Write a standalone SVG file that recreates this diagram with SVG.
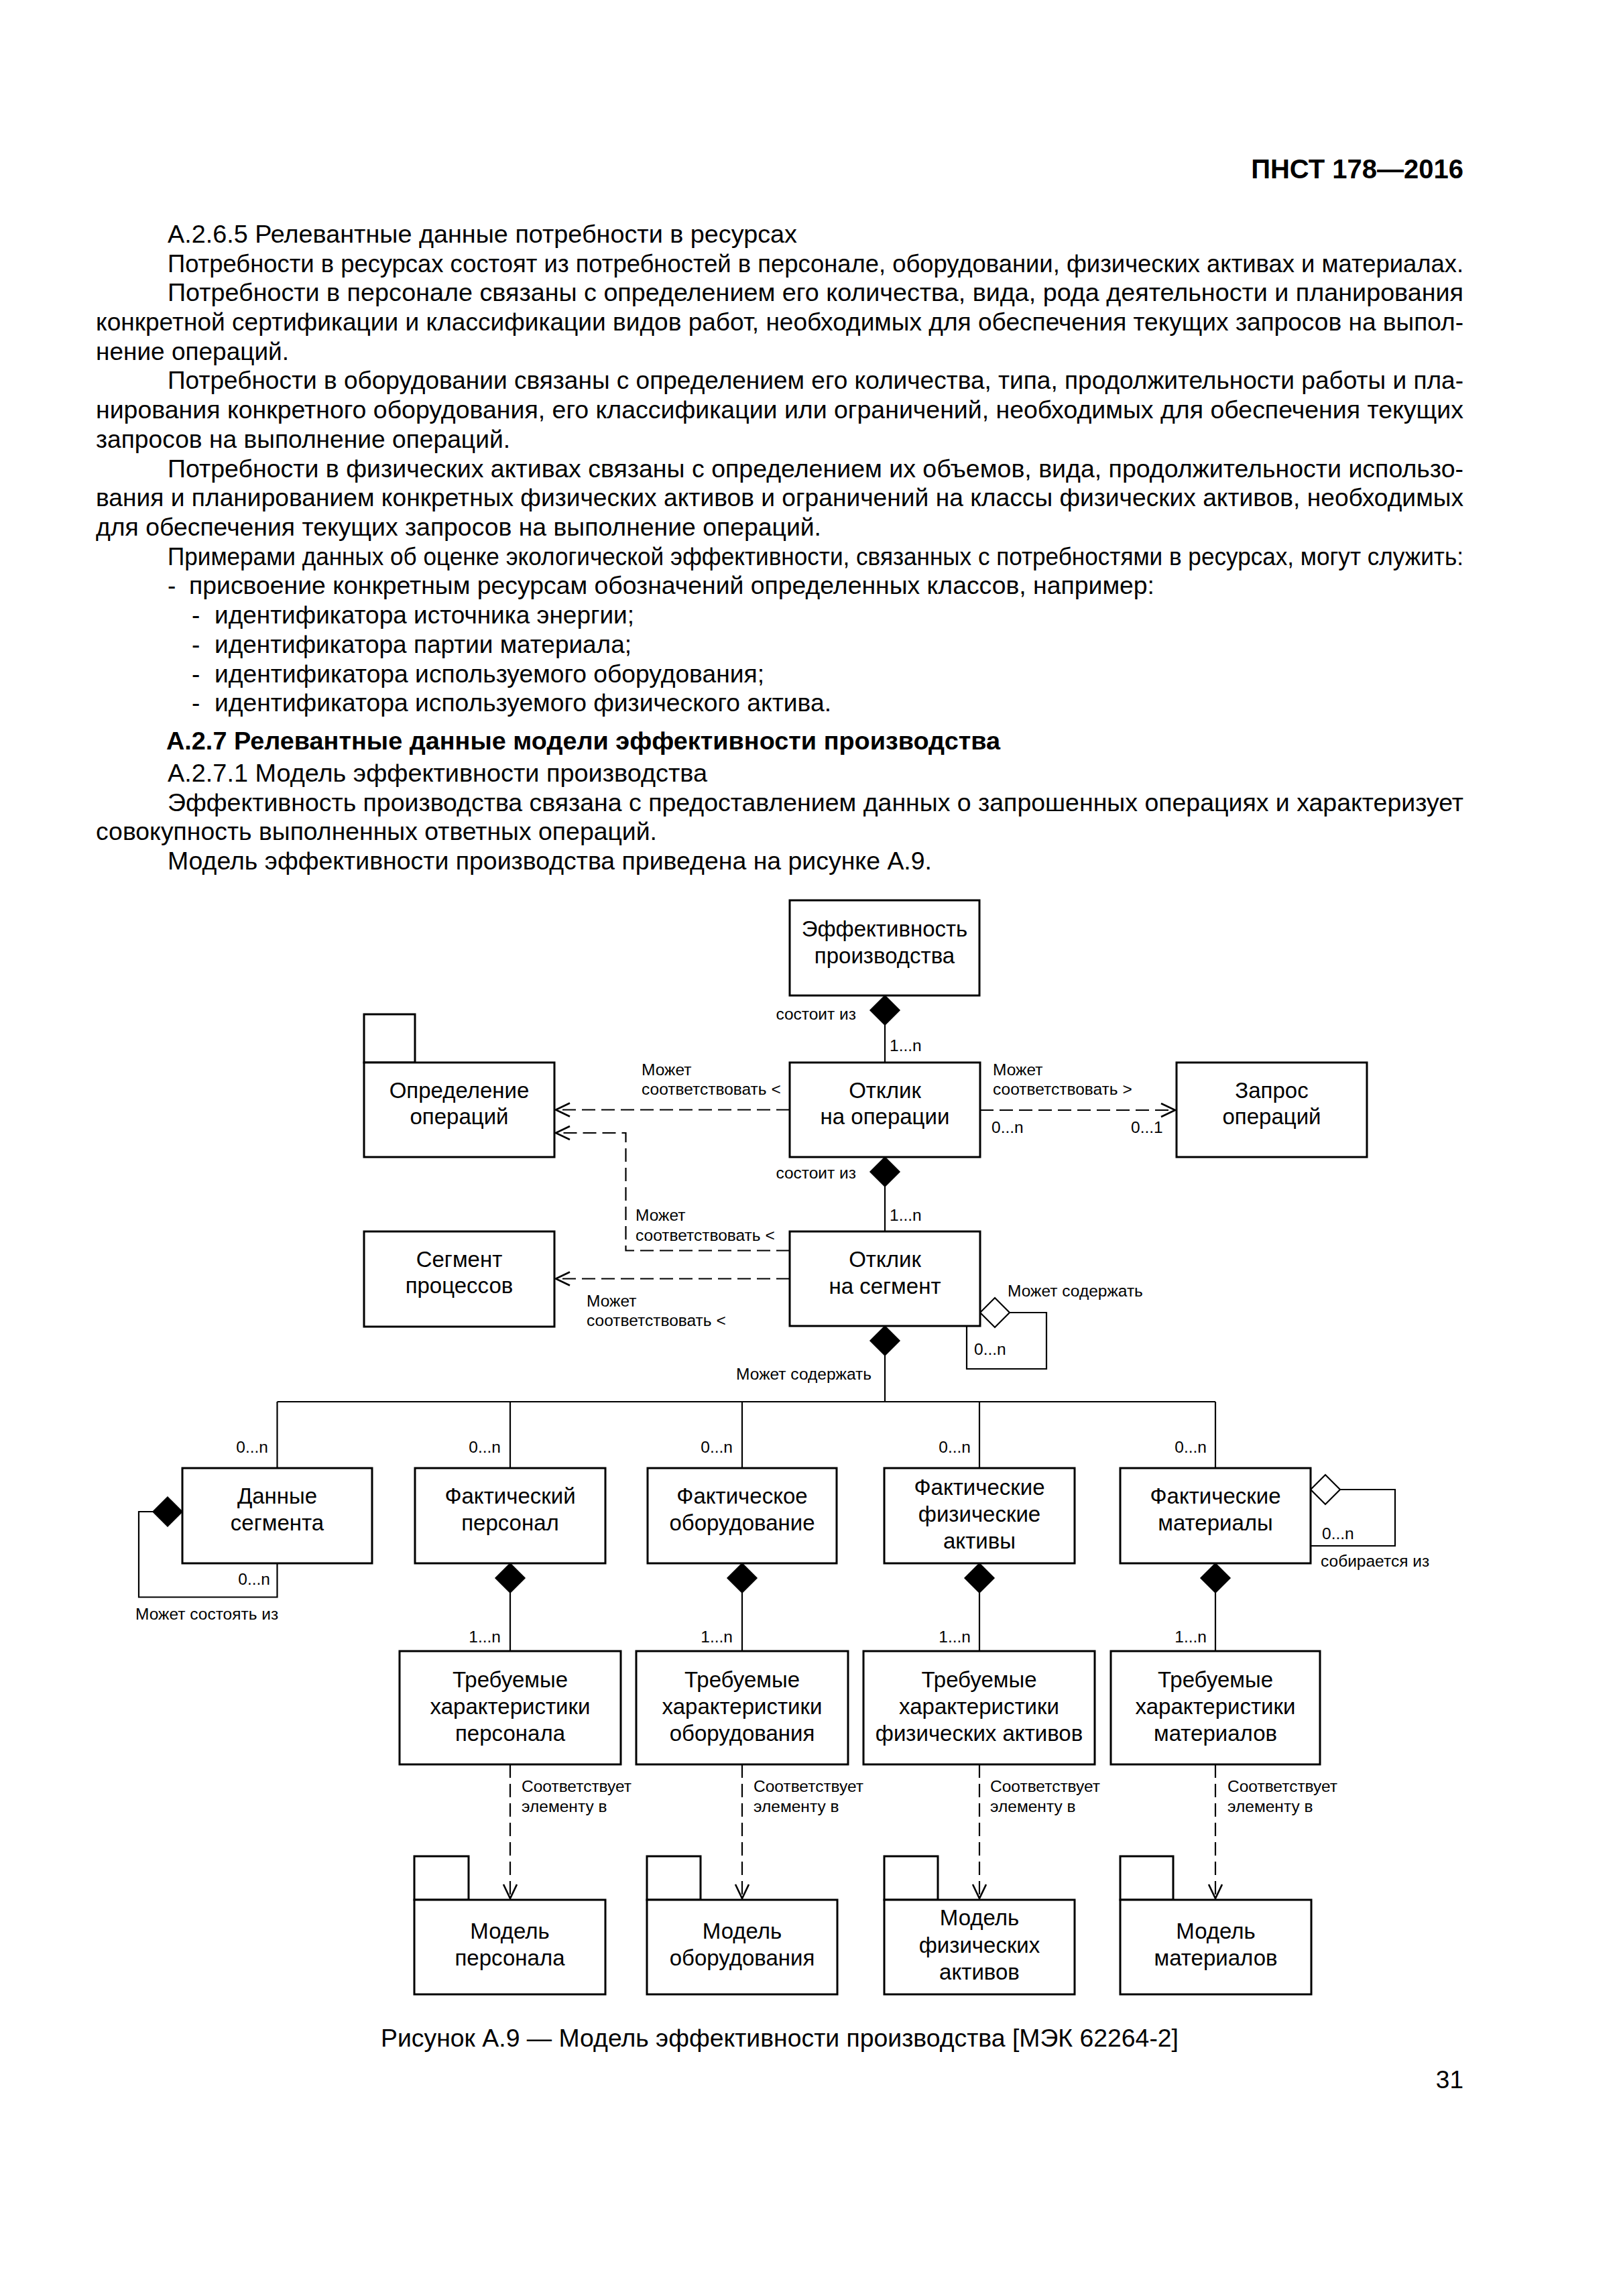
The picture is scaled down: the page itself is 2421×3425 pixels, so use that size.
<svg xmlns="http://www.w3.org/2000/svg" width="2421" height="3425" viewBox="0 0 2421 3425">
<style>
text{font-family:"Liberation Sans",Arial,sans-serif;fill:#000}
.b{font-size:37px}
.hb{font-weight:bold}
.box{fill:#fff;stroke:#000;stroke-width:3}
.lbl{font-size:33px;text-anchor:middle}
.sm{font-size:24.5px}
.e{text-anchor:end}
.ln{fill:none;stroke:#000;stroke-width:2.2}
.dl{fill:none;stroke:#000;stroke-width:2.2;stroke-dasharray:20 9}
.fd{fill:#000;stroke:#000;stroke-width:1.5}
.hd{fill:#fff;stroke:#000;stroke-width:2.2}
</style>
<defs>
<marker id="arr" markerUnits="userSpaceOnUse" markerWidth="30" markerHeight="30" refX="22" refY="11" orient="auto">
<path d="M1,1 L22,11 L1,21" fill="none" stroke="#000" stroke-width="2.6"/>
</marker>
</defs>
<rect x="0" y="0" width="2421" height="3425" fill="#fff"/>

<g id="page-text">
<text class="b hb e" x="2183" y="266" style="font-size:40px">ПНСТ 178—2016</text>
<text class="b" x="250" y="362" textLength="939" lengthAdjust="spacingAndGlyphs">А.2.6.5  Релевантные данные потребности в ресурсах</text>
<text class="b" x="250" y="406" textLength="1933" lengthAdjust="spacingAndGlyphs">Потребности в ресурсах состоят из потребностей в персонале, оборудовании, физических активах и материалах.</text>
<text class="b" x="250" y="449" textLength="1933" lengthAdjust="spacingAndGlyphs">Потребности в персонале связаны с определением его количества, вида, рода деятельности и планирования</text>
<text class="b" x="143" y="493" textLength="2040" lengthAdjust="spacingAndGlyphs">конкретной сертификации и классификации видов работ, необходимых для обеспечения текущих запросов на выпол-</text>
<text class="b" x="143" y="537" textLength="288" lengthAdjust="spacingAndGlyphs">нение операций.</text>
<text class="b" x="250" y="580" textLength="1933" lengthAdjust="spacingAndGlyphs">Потребности в оборудовании связаны с определением его количества, типа, продолжительности работы и пла-</text>
<text class="b" x="143" y="624" textLength="2040" lengthAdjust="spacingAndGlyphs">нирования конкретного оборудования, его классификации или ограничений, необходимых для обеспечения текущих</text>
<text class="b" x="143" y="668" textLength="618" lengthAdjust="spacingAndGlyphs">запросов на выполнение операций.</text>
<text class="b" x="250" y="712" textLength="1933" lengthAdjust="spacingAndGlyphs">Потребности в физических активах связаны с определением их объемов, вида, продолжительности использо-</text>
<text class="b" x="143" y="755" textLength="2040" lengthAdjust="spacingAndGlyphs">вания и планированием конкретных физических активов и ограничений на классы физических активов, необходимых</text>
<text class="b" x="143" y="799" textLength="1082" lengthAdjust="spacingAndGlyphs">для обеспечения текущих запросов на выполнение операций.</text>
<text class="b" x="250" y="843" textLength="1933" lengthAdjust="spacingAndGlyphs">Примерами данных об оценке экологической эффективности, связанных с потребностями в ресурсах, могут служить:</text>
<text class="b" x="250" y="886">-</text>
<text class="b" x="282" y="886" textLength="1440" lengthAdjust="spacingAndGlyphs">присвоение конкретным ресурсам обозначений определенных классов, например:</text>
<text class="b" x="286" y="930">-</text>
<text class="b" x="320" y="930" textLength="626" lengthAdjust="spacingAndGlyphs">идентификатора источника энергии;</text>
<text class="b" x="286" y="974">-</text>
<text class="b" x="320" y="974" textLength="622" lengthAdjust="spacingAndGlyphs">идентификатора партии материала;</text>
<text class="b" x="286" y="1018">-</text>
<text class="b" x="320" y="1018" textLength="820" lengthAdjust="spacingAndGlyphs">идентификатора используемого оборудования;</text>
<text class="b" x="286" y="1061">-</text>
<text class="b" x="320" y="1061" textLength="920" lengthAdjust="spacingAndGlyphs">идентификатора используемого физического актива.</text>
<text class="b hb" x="248" y="1118" textLength="1244" lengthAdjust="spacingAndGlyphs">А.2.7  Релевантные данные модели эффективности производства</text>
<text class="b" x="250" y="1166" textLength="805" lengthAdjust="spacingAndGlyphs">А.2.7.1  Модель эффективности производства</text>
<text class="b" x="250" y="1210" textLength="1933" lengthAdjust="spacingAndGlyphs">Эффективность производства связана с предоставлением данных о запрошенных операциях и характеризует</text>
<text class="b" x="143" y="1253" textLength="837" lengthAdjust="spacingAndGlyphs">совокупность выполненных ответных операций.</text>
<text class="b" x="250" y="1297" textLength="1140" lengthAdjust="spacingAndGlyphs">Модель эффективности производства приведена на рисунке А.9.</text>
<text class="b" x="568" y="3053" textLength="1190" lengthAdjust="spacingAndGlyphs">Рисунок А.9 — Модель эффективности производства [МЭК 62264-2]</text>
<text class="b e" x="2183" y="3115">31</text>
</g>

<g id="connectors">
<polygon class="fd" points="1320,1485 1342,1507 1320,1529 1298,1507"/>
<line class="ln" x1="1320" y1="1529" x2="1320" y2="1585"/>
<line class="dl" x1="1178" y1="1655.5" x2="829" y2="1655.5" marker-end="url(#arr)"/>
<line class="dl" x1="1462" y1="1656" x2="1753" y2="1656" marker-end="url(#arr)"/>
<polygon class="fd" points="1320,1726 1342,1748 1320,1770 1298,1748"/>
<line class="ln" x1="1320" y1="1770" x2="1320" y2="1837"/>
<path class="dl" d="M1178,1865.5 H933.5 V1690 H829" marker-end="url(#arr)"/>
<line class="dl" x1="1178" y1="1907.5" x2="829" y2="1907.5" marker-end="url(#arr)"/>
<polygon class="hd" points="1462,1958 1484,1936 1506,1958 1484,1980"/>
<path class="ln" d="M1506,1958 H1561 V2042 H1442 V1978"/>
<polygon class="fd" points="1320,1978 1342,2000 1320,2022 1298,2000"/>
<line class="ln" x1="1320" y1="2022" x2="1320" y2="2091"/>
<path class="ln" d="M413.5,2091 H1813"/>
<line class="ln" x1="413.5" y1="2091" x2="413.5" y2="2190"/>
<line class="ln" x1="761" y1="2091" x2="761" y2="2190"/>
<line class="ln" x1="1107" y1="2091" x2="1107" y2="2190"/>
<line class="ln" x1="1461" y1="2091" x2="1461" y2="2190"/>
<line class="ln" x1="1813" y1="2091" x2="1813" y2="2190"/>
<polygon class="fd" points="272,2255 250,2233 228,2255 250,2277"/>
<path class="ln" d="M228,2255 H207 V2382.5 H413.5 V2332"/>
<polygon class="hd" points="1955,2222 1977,2200 1999,2222 1977,2244"/>
<path class="ln" d="M1999,2222 H2081 V2306 H1955"/>
<polygon class="fd" points="761,2332 783,2354 761,2376 739,2354"/>
<line class="ln" x1="761" y1="2376" x2="761" y2="2463"/>
<polygon class="fd" points="1107,2332 1129,2354 1107,2376 1085,2354"/>
<line class="ln" x1="1107" y1="2376" x2="1107" y2="2463"/>
<polygon class="fd" points="1461,2332 1483,2354 1461,2376 1439,2354"/>
<line class="ln" x1="1461" y1="2376" x2="1461" y2="2463"/>
<polygon class="fd" points="1813,2332 1835,2354 1813,2376 1791,2354"/>
<line class="ln" x1="1813" y1="2376" x2="1813" y2="2463"/>
<line class="dl" x1="761" y1="2632" x2="761" y2="2832" marker-end="url(#arr)"/>
<line class="dl" x1="1107" y1="2632" x2="1107" y2="2832" marker-end="url(#arr)"/>
<line class="dl" x1="1461" y1="2632" x2="1461" y2="2832" marker-end="url(#arr)"/>
<line class="dl" x1="1813" y1="2632" x2="1813" y2="2832" marker-end="url(#arr)"/>

<text class="sm e" x="1277" y="1521">состоит из</text>
<text class="sm" x="1327" y="1568">1...n</text>
<text class="sm" x="957" y="1604">Может</text>
<text class="sm" x="957" y="1633">соответствовать &lt;</text>
<text class="sm" x="1481" y="1604">Может</text>
<text class="sm" x="1481" y="1633">соответствовать &gt;</text>
<text class="sm" x="1479" y="1690">0...n</text>
<text class="sm" x="1687" y="1690">0...1</text>
<text class="sm e" x="1277" y="1758">состоит из</text>
<text class="sm" x="1327" y="1821">1...n</text>
<text class="sm" x="948" y="1821">Может</text>
<text class="sm" x="948" y="1851">соответствовать &lt;</text>
<text class="sm" x="875" y="1949">Может</text>
<text class="sm" x="875" y="1978">соответствовать &lt;</text>
<text class="sm" x="1503" y="1934">Может содержать</text>
<text class="sm" x="1453" y="2021">0...n</text>
<text class="sm e" x="1300" y="2058">Может содержать</text>
<text class="sm e" x="400" y="2167">0...n</text>
<text class="sm e" x="747" y="2167">0...n</text>
<text class="sm e" x="1093" y="2167">0...n</text>
<text class="sm e" x="1448" y="2167">0...n</text>
<text class="sm e" x="1800" y="2167">0...n</text>
<text class="sm e" x="403" y="2364">0...n</text>
<text class="sm" x="202" y="2416">Может состоять из</text>
<text class="sm" x="1972" y="2296">0...n</text>
<text class="sm" x="1970" y="2337">собирается из</text>
<text class="sm e" x="747" y="2450">1...n</text>
<text class="sm e" x="1093" y="2450">1...n</text>
<text class="sm e" x="1448" y="2450">1...n</text>
<text class="sm e" x="1800" y="2450">1...n</text>
<text class="sm" x="778" y="2673">Соответствует</text>
<text class="sm" x="778" y="2703">элементу в</text>
<text class="sm" x="1124" y="2673">Соответствует</text>
<text class="sm" x="1124" y="2703">элементу в</text>
<text class="sm" x="1477" y="2673">Соответствует</text>
<text class="sm" x="1477" y="2703">элементу в</text>
<text class="sm" x="1831" y="2673">Соответствует</text>
<text class="sm" x="1831" y="2703">элементу в</text>
</g>

<g id="n-eff"><rect class="box" x="1178" y="1343" width="283" height="142"/>
<text class="lbl" x="1319.5" y="1397">Эффективность</text><text class="lbl" x="1319.5" y="1437">производства</text></g>
<g id="n-otklik-op"><rect class="box" x="1178" y="1585" width="284" height="141"/>
<text class="lbl" x="1320" y="1638">Отклик</text><text class="lbl" x="1320" y="1677">на операции</text></g>
<g id="n-opred"><rect class="box" x="543" y="1513" width="76" height="72"/><rect class="box" x="543" y="1585" width="284" height="141"/>
<text class="lbl" x="685" y="1638">Определение</text><text class="lbl" x="685" y="1677">операций</text></g>
<g id="n-zapros"><rect class="box" x="1755" y="1585" width="284" height="141"/>
<text class="lbl" x="1897" y="1638">Запрос</text><text class="lbl" x="1897" y="1677">операций</text></g>
<g id="n-otklik-seg"><rect class="box" x="1178" y="1837" width="284" height="141"/>
<text class="lbl" x="1320" y="1890">Отклик</text><text class="lbl" x="1320" y="1930">на сегмент</text></g>
<g id="n-segment"><rect class="box" x="543" y="1837" width="284" height="142"/>
<text class="lbl" x="685" y="1890">Сегмент</text><text class="lbl" x="685" y="1929">процессов</text></g>

<g id="n-dannye"><rect class="box" x="272" y="2190" width="283" height="142"/>
<text class="lbl" x="413.5" y="2243">Данные</text><text class="lbl" x="413.5" y="2283">сегмента</text></g>
<g id="n-fpers"><rect class="box" x="619" y="2190" width="284" height="142"/>
<text class="lbl" x="761" y="2243">Фактический</text><text class="lbl" x="761" y="2283">персонал</text></g>
<g id="n-fobor"><rect class="box" x="966" y="2190" width="282" height="142"/>
<text class="lbl" x="1107" y="2243">Фактическое</text><text class="lbl" x="1107" y="2283">оборудование</text></g>
<g id="n-ffiz"><rect class="box" x="1319" y="2190" width="284" height="142"/>
<text class="lbl" x="1461" y="2230">Фактические</text><text class="lbl" x="1461" y="2270">физические</text><text class="lbl" x="1461" y="2310">активы</text></g>
<g id="n-fmat"><rect class="box" x="1671" y="2190" width="284" height="142"/>
<text class="lbl" x="1813" y="2243">Фактические</text><text class="lbl" x="1813" y="2283">материалы</text></g>

<g id="n-tpers"><rect class="box" x="596" y="2463" width="330" height="169"/>
<text class="lbl" x="761" y="2517">Требуемые</text><text class="lbl" x="761" y="2557">характеристики</text><text class="lbl" x="761" y="2597">персонала</text></g>
<g id="n-tobor"><rect class="box" x="949" y="2463" width="316" height="169"/>
<text class="lbl" x="1107" y="2517">Требуемые</text><text class="lbl" x="1107" y="2557">характеристики</text><text class="lbl" x="1107" y="2597">оборудования</text></g>
<g id="n-tfiz"><rect class="box" x="1288" y="2463" width="345" height="169"/>
<text class="lbl" x="1460.5" y="2517">Требуемые</text><text class="lbl" x="1460.5" y="2557">характеристики</text><text class="lbl" x="1460.5" y="2597">физических активов</text></g>
<g id="n-tmat"><rect class="box" x="1657" y="2463" width="312" height="169"/>
<text class="lbl" x="1813" y="2517">Требуемые</text><text class="lbl" x="1813" y="2557">характеристики</text><text class="lbl" x="1813" y="2597">материалов</text></g>

<g id="n-mpers"><rect class="box" x="618" y="2769" width="81" height="65"/><rect class="box" x="618" y="2834" width="285" height="141"/>
<text class="lbl" x="760.5" y="2892">Модель</text><text class="lbl" x="760.5" y="2932">персонала</text></g>
<g id="n-mobor"><rect class="box" x="965" y="2769" width="80" height="65"/><rect class="box" x="965" y="2834" width="284" height="141"/>
<text class="lbl" x="1107" y="2892">Модель</text><text class="lbl" x="1107" y="2932">оборудования</text></g>
<g id="n-mfiz"><rect class="box" x="1319" y="2769" width="80" height="65"/><rect class="box" x="1319" y="2834" width="284" height="141"/>
<text class="lbl" x="1461" y="2872">Модель</text><text class="lbl" x="1461" y="2913">физических</text><text class="lbl" x="1461" y="2953">активов</text></g>
<g id="n-mmat"><rect class="box" x="1671" y="2769" width="79" height="65"/><rect class="box" x="1671" y="2834" width="285" height="141"/>
<text class="lbl" x="1813.5" y="2892">Модель</text><text class="lbl" x="1813.5" y="2932">материалов</text></g>
</svg>
